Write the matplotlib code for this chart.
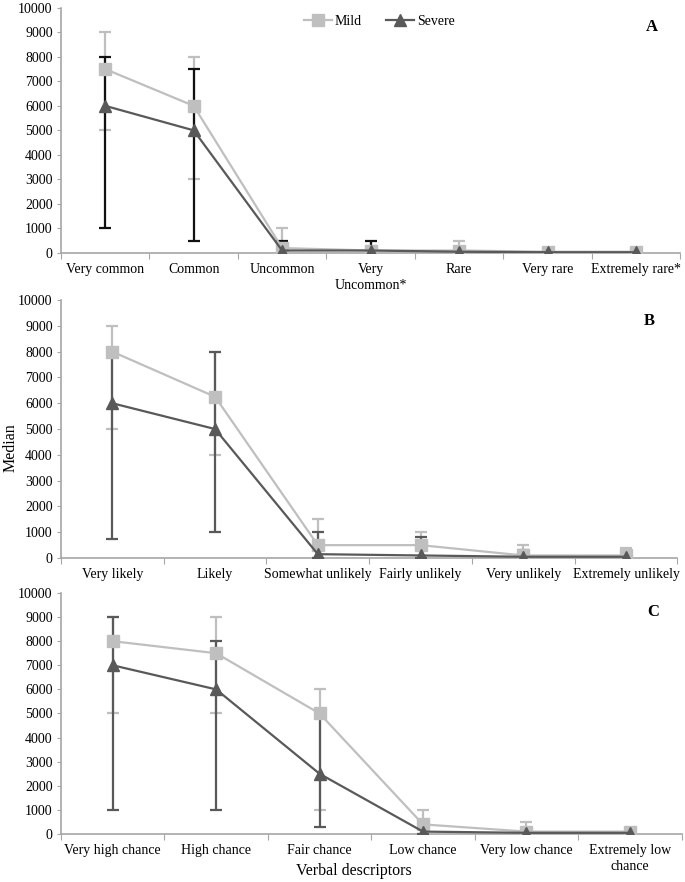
import matplotlib.pyplot as plt
import numpy as np

plt.rcParams['font.family'] = ['Liberation Serif', 'DejaVu Serif']

# Panel A - frequency descriptors
cats_a = ["Very common", "Common", "Uncommon", "Very\nUncommon*", "Rare", "Very rare", "Extremely rare*"]
mild_a = [7500, 6000, 200, 100, 100, 50, 50]
mild_a_lo = [5000, 3000, 0, 0, 0, 0, 0]
mild_a_hi = [9000, 8000, 1000, 300, 500, 100, 100]
sev_a = [6000, 5000, 100, 100, 50, 30, 30]
sev_a_lo = [1000, 500, 0, 0, 0, 0, 0]
sev_a_hi = [8000, 7500, 500, 500, 200, 50, 50]

# Panel B - likelihood descriptors
cats_b = ["Very likely", "Likely", "Somewhat unlikely", "Fairly unlikely", "Very unlikely", "Extremely unlikely"]
mild_b = [8000, 6250, 500, 500, 100, 100]
mild_b_lo = [5000, 4000, 0, 0, 0, 0]
mild_b_hi = [9000, 8000, 1500, 1000, 500, 400]
sev_b = [6000, 5000, 150, 100, 50, 50]
sev_b_lo = [750, 1000, 0, 0, 0, 0]
sev_b_hi = [8000, 8000, 1000, 800, 300, 200]

# Panel C - chance descriptors
cats_c = ["Very high chance", "High chance", "Fair chance", "Low chance", "Very low chance", "Extremely low\nchance"]
mild_c = [8000, 7500, 5000, 400, 100, 100]
mild_c_lo = [5000, 5000, 1000, 0, 0, 0]
mild_c_hi = [9000, 9000, 6000, 1000, 500, 200]
sev_c = [7000, 6000, 2500, 100, 50, 50]
sev_c_lo = [1000, 1000, 280, 0, 0, 0]
sev_c_hi = [9000, 8000, 5000, 300, 100, 100]

MILD = '#bfbfbf'
SEV = '#595959'
AXC = '#a6a6a6'

fig = plt.figure(figsize=(6.85, 8.82), dpi=100)
ax_a = fig.add_axes([0.089, 0.7132, 0.904, 0.278])
ax_b = fig.add_axes([0.089, 0.3673, 0.900, 0.2925])
ax_c = fig.add_axes([0.089, 0.0544, 0.906, 0.2733])


def draw(ax, cats, mild, mlo, mhi, sev, slo, shi, sev_err_col, letter):
    x = np.arange(len(cats))
    mild = np.array(mild)
    sev = np.array(sev)
    ax.errorbar(x, mild, yerr=[mild - np.array(mlo), np.array(mhi) - mild],
                fmt='none', ecolor=MILD, elinewidth=1.6, capsize=4, capthick=1.6, zorder=2)
    ax.errorbar(x, sev, yerr=[sev - np.array(slo), np.array(shi) - sev],
                fmt='none', ecolor=sev_err_col, elinewidth=1.6, capsize=4, capthick=1.6, zorder=3)
    ax.plot(x, mild, color=MILD, lw=1.6, marker='s', ms=8, label='Mild', zorder=4)
    ax.plot(x, sev, color=SEV, lw=1.6, marker='^', ms=8, label='Severe', zorder=5)
    ax.set_xlim(-0.5, len(cats) - 0.5)
    ax.set_ylim(0, 10000)
    ax.set_yticks(np.arange(0, 10001, 1000))
    ax.set_xticks(np.arange(len(cats) + 1) - 0.5)
    ax.set_xticklabels([])
    ax.set_xticks(x, minor=True)
    ax.set_xticklabels(cats, minor=True, fontsize=10, linespacing=1.35)
    ax.tick_params(axis='x', which='minor', length=0, pad=7)
    ax.tick_params(axis='x', which='major', length=4, color=AXC)
    ax.tick_params(axis='y', length=3, color=AXC, labelsize=10, pad=3)
    for s in ['top', 'right']:
        ax.spines[s].set_visible(False)
    for s in ['left', 'bottom']:
        ax.spines[s].set_color(AXC)
        ax.spines[s].set_linewidth(1.2)
    ax.text(0.955, 0.92, letter, transform=ax.transAxes, fontsize=12, fontweight='bold', ha='center', va='center')


draw(ax_a, cats_a, mild_a, mild_a_lo, mild_a_hi, sev_a, sev_a_lo, sev_a_hi, '#111111', 'A')
draw(ax_b, cats_b, mild_b, mild_b_lo, mild_b_hi, sev_b, sev_b_lo, sev_b_hi, SEV, 'B')
draw(ax_c, cats_c, mild_c, mild_c_lo, mild_c_hi, sev_c, sev_c_lo, sev_c_hi, SEV, 'C')

ax_a.legend(loc='upper center', bbox_to_anchor=(0.514, 1.02), ncol=2, frameon=False,
            fontsize=10, handlelength=2.0, columnspacing=1.8, handletextpad=0.2)

fig.text(0.016, 0.492, 'Median', rotation=90, fontsize=11.5, ha='center', va='center')
fig.text(0.516, 0.013, 'Verbal descriptors', fontsize=11.5, ha='center', va='center')

fig.savefig('out.png', dpi=100)
